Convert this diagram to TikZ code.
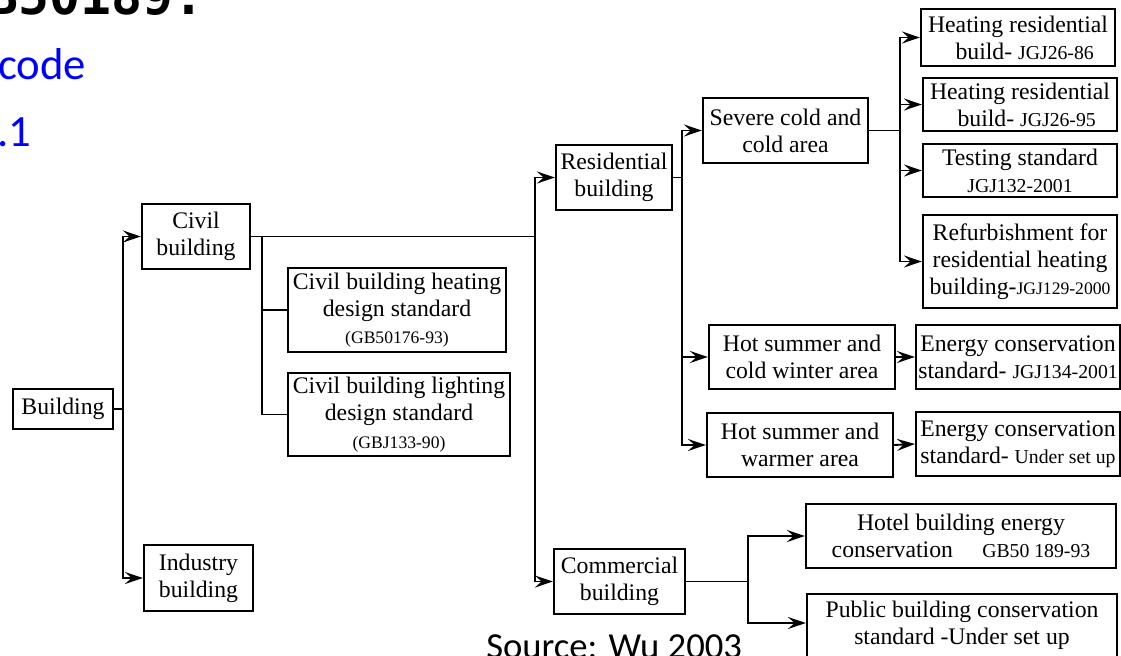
\documentclass[tikz,border=0pt]{standalone}
\usepackage{fontspec}
\setmainfont{Liberation Serif}
\newfontfamily\calfont{Carlito}
\newfontfamily\monofont{DejaVu Sans Mono}
\usetikzlibrary{arrows.meta,calc}
\newcommand\smf{\fontsize{14.8pt}{20pt}\selectfont}
\newcommand\xsf{\fontsize{13.2pt}{20pt}\selectfont}
\begin{document}
\begin{tikzpicture}[x=0.75pt,y=-0.75pt,
  box/.style={draw, line width=1.6pt, align=center, inner sep=0pt,
    font=\fontsize{17.8pt}{20.4pt}\selectfont},
  sz/.style 2 args={minimum width=#1*0.75pt, minimum height=#2*0.75pt},
  ln/.style={line width=1.4pt},
  arr/.style={ln, -{Stealth[length=13.5pt,width=9pt,inset=5pt]}}]
\useasboundingbox (0,0) rectangle (1121,656);
\clip (0,0) rectangle (1121,656);
\fill[white] (0,0) rectangle (1121,656);

% header and footer texts
\node[font=\monofont\bfseries\fontsize{38.6pt}{40pt}\selectfont, anchor=base west, inner sep=0pt] (gb) at (-43.5,15) {GB50189:};
\node[font=\calfont\fontsize{33.5pt}{36pt}\selectfont, text=blue, anchor=base west, inner sep=0pt] (cd) at (-2,80) {code};
\node[font=\calfont\fontsize{33.5pt}{36pt}\selectfont, text=blue, anchor=base west, inner sep=0pt] (n1) at (-3,147) {.1};
\node[font=\calfont\fontsize{27.5pt}{30pt}\selectfont, anchor=base west, inner sep=0pt] (src) at (486,658) {Source: Wu 2003};

% boxes
\node[box, sz={100}{40}] (bld) at (63,409) {Building};
\node[box, sz={108}{65}] (civ) at (196,236.5) {Civil\\building};
\node[box, sz={109}{66}] (ind) at (198.5,578) {Industry\\building};
\node[box, sz={218}{84}] (heat) at (397,310) {Civil building heating\\design standard\\{\xsf (GB50176-93)}};
\node[box, sz={222}{83}] (light) at (399,414.5) {Civil building lighting\\design standard\\{\xsf (GBJ133-90)}};
\node[box, sz={116}{65}] (res) at (614,177.5) {Residential\\building};
\node[box, sz={131}{65}] (com) at (619.5,581.5) {Commercial\\building};
\node[box, sz={165}{65}] (sev) at (785.5,130.5) {Severe cold and\\cold area};
\node[box, sz={194}{57}] (h1) at (1018,37.5) {Heating residential\\\hspace*{10pt}build- {\smf JGJ26-86}};
\node[box, sz={194}{53}] (h2) at (1020,104.5) {Heating residential\\\hspace*{10pt}build- {\smf JGJ26-95}};
\node[box, sz={194}{53}] (tst) at (1020,170.5) {Testing standard\\{\smf JGJ132-2001}};
\node[box, sz={194}{93}] (ref) at (1020,261.5) {Refurbishment for\\residential heating\\building-{\xsf JGJ129-2000}};
\node[box, sz={186}{64}] (hcw) at (802,357) {Hot summer and\\cold winter area};
\node[box, sz={204}{64}] (e1) at (1018,357) {Energy conservation\\standard- {\smf JGJ134-2001}};
\node[box, sz={186}{64}] (hsw) at (800,445) {Hot summer and\\warmer area};
\node[box, sz={204}{64}] (e2) at (1018,444) {Energy conservation\\standard- {\smf Under set up}};
\node[box, sz={310}{64}] (hot) at (961,536) {Hotel building energy\\conservation\hspace{22pt}{\smf GB50 189-93}};
\node[box, sz={310}{84}, anchor=north] (pub) at (962,593) {Public building conservation\\standard -Under set up\\\mbox{}};

% connectors
\coordinate (j1) at (123,409);
\draw[ln] (bld.east) -- (j1);
\draw[arr] (j1) |- (civ.west);
\draw[arr] (j1) |- (ind.west);

\coordinate (j2) at (535,236.5);
\coordinate (j2a) at (262,236.5);
\draw[ln] (civ.east) -- (j2);
\draw[ln] (j2a) |- (heat.west);
\draw[ln] (j2a) |- (light.west);
\draw[arr] (j2) |- (res.west);
\draw[arr] (j2) |- (com.west);

\coordinate (j3) at (682,177.5);
\draw[ln] (res.east) -- (j3);
\draw[arr] (j3) |- (sev.west);
\draw[arr] (j3) |- (hcw.west);
\draw[arr] (j3) |- (hsw.west);

\coordinate (j4) at (900,130.5);
\draw[ln] (sev.east) -- (j4);
\draw[arr] (j4) |- (h1.west);
\draw[arr] (j4) |- (h2.west);
\draw[arr] (j4) |- (tst.west);
\draw[arr] (j4) |- (ref.west);

\draw[arr] (hcw.east) -- (e1.west);
\draw[arr] (hsw.east) -- (e2.west);

\coordinate (j5) at (748,581.5);
\draw[ln] (com.east) -- (j5);
\draw[arr] (j5) |- (hot.west);
\draw[arr] (j5) |- ($(pub.north west)+(0,30)$);
\end{tikzpicture}
\end{document}
